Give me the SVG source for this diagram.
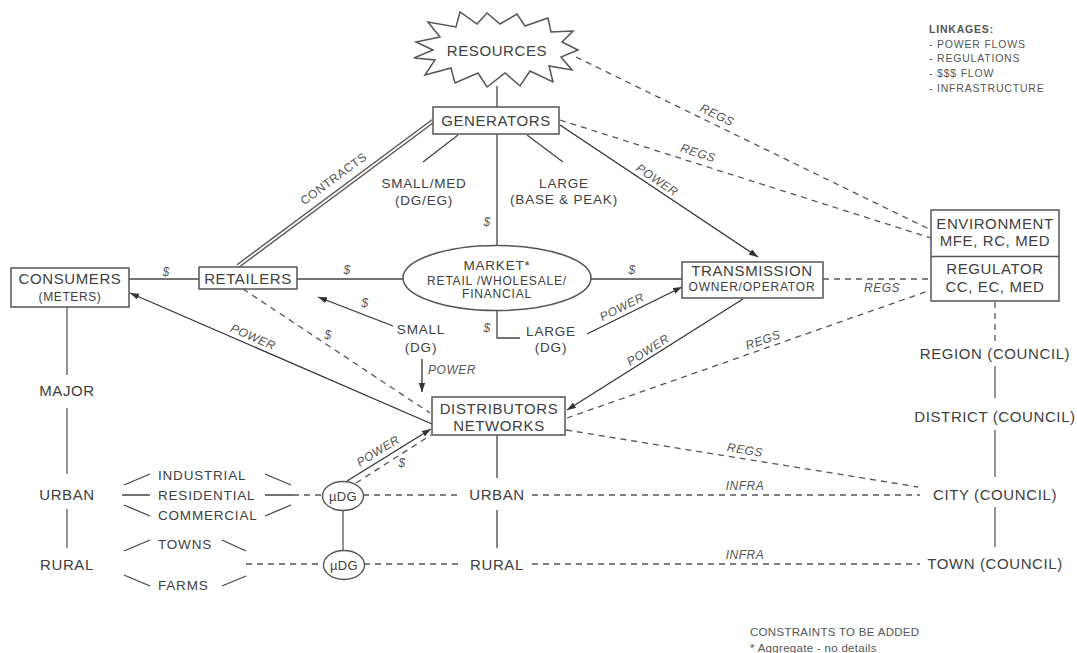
<svg xmlns="http://www.w3.org/2000/svg" width="1077" height="653" viewBox="0 0 1077 653">
<defs>
<marker id="arr" viewBox="0 0 10 7" refX="10" refY="3.5" markerWidth="9" markerHeight="6.3" markerUnits="userSpaceOnUse" orient="auto"><path d="M0,0 L10,3.5 L0,7 z" fill="#333"/></marker>
</defs>
<style>
text { font-family: "Liberation Sans", Arial, Helvetica, sans-serif; fill: #404040; }
.big { font-size: 15px; letter-spacing: 0.6px; text-anchor: middle; }
.mid { font-size: 13.5px; letter-spacing: 0.8px; text-anchor: middle; }
.mids { font-size: 13.5px; letter-spacing: 0.8px; text-anchor: start; }
.sm { font-size: 12px; letter-spacing: 0.8px; text-anchor: middle; }
.lbl { font-size: 12px; font-style: italic; letter-spacing: 0.5px; text-anchor: middle; fill: #555; }
.leg { font-size: 10.5px; letter-spacing: 0.8px; fill: #555; }
.note { font-size: 11.5px; letter-spacing: 0.3px; fill: #555; }
.box { fill: #fff; stroke: #555; stroke-width: 1.5; }
.ln { stroke: #444; stroke-width: 1.3; fill: none; }
.arw { stroke: #333; stroke-width: 1.3; fill: none; marker-end: url(#arr); }
.gl { stroke: #888; stroke-width: 1.8; fill: none; }
.dash { stroke: #555; stroke-width: 1.3; stroke-dasharray: 6 5; fill: none; }
</style>
<rect width="1077" height="653" fill="#fff"/>

<g id="connectors">
  <path class="ln" d="M497,86 L497,107"/>
  <path class="ln" d="M497,134 L497,245"/>
  <path class="ln" d="M458,135 L423,162"/>
  <path class="ln" d="M527,135 L563,162"/>
  <path d="M238,266 L433,121" stroke="#555" stroke-width="4.6" fill="none"/>
  <path d="M238,266 L433,121" stroke="#fff" stroke-width="1.8" fill="none"/>
  <path class="ln" d="M129,279 L199,279"/>
  <path class="ln" d="M297,279 L403,279"/>
  <path class="ln" d="M591,279 L682,279"/>
  <path class="arw" d="M560,125 L758,257"/>
  <path class="arw" d="M393,326 L318,297"/>
  <path class="arw" d="M422,359 L422,392"/>
  <path class="ln" d="M497,310 L497,338 L520,338"/>
  <path class="arw" d="M587,334 L682,287"/>
  <path class="arw" d="M743,299 L567,410"/>
  <path class="arw" d="M432,424 L130,293"/>
  <path class="dash" d="M243,289 L430,413"/>
  <path class="arw" d="M347,481 L431,429"/>
  <path class="dash" d="M356,483 L431,435"/>
  <path class="dash" d="M576,57 L931,230"/>
  <path class="dash" d="M560,120 L931,238"/>
  <path class="dash" d="M823,279 L931,279"/>
  <path class="dash" d="M567,418 L931,290"/>
  <path class="dash" d="M566,430 L918,487"/>
  <path class="dash" d="M995,302 L995,344"/>
  <path class="gl" d="M995,366 L995,398"/>
  <path class="gl" d="M995,430 L995,477"/>
  <path class="gl" d="M995,507 L995,547"/>
  <path class="gl" d="M67,307 L67,375"/>
  <path class="gl" d="M67,408 L67,474"/>
  <path class="gl" d="M67,509 L67,548"/>
  <path class="ln" d="M124,485 L150,474 M122,495 L150,495 M124,505 L150,516"/>
  <path class="ln" d="M265,474 L291,485 M265,495 L293,495 M265,516 L291,505"/>
  <path class="dash" d="M293,495 L322,495"/>
  <path class="ln" d="M124,551 L150,540 M124,575 L150,586 M222,540 L246,551 M222,586 L246,576"/>
  <path class="dash" d="M246,564 L323,564"/>
  <path class="gl" d="M343,510 L343,550"/>
  <path class="dash" d="M363,495 L462,495"/>
  <path class="dash" d="M364,564 L458,564"/>
  <path class="ln" d="M497,435 L497,478"/>
  <path class="ln" d="M497,510 L497,548"/>
  <path class="dash" d="M532,495 L920,495"/>
  <path class="dash" d="M532,564 L920,564"/>
</g>

<g id="connector-labels">
  <text class="lbl" x="0" y="0" transform="translate(336,182) rotate(-36.6)" style="font-style:normal">CONTRACTS</text>
  <text class="lbl" x="166" y="276">$</text>
  <text class="lbl" x="347" y="274">$</text>
  <text class="lbl" x="632" y="274">$</text>
  <text class="lbl" x="487" y="226">$</text>
  <text class="lbl" x="487" y="332">$</text>
  <text class="lbl" x="365" y="307">$</text>
  <text class="lbl" x="328" y="339">$</text>
  <text class="lbl" x="402" y="467">$</text>
  <text class="lbl" x="0" y="4" transform="translate(657,180) rotate(33.7)">POWER</text>
  <text class="lbl" x="0" y="4" transform="translate(622,307) rotate(-26.3)">POWER</text>
  <text class="lbl" x="0" y="4" transform="translate(648,350) rotate(-32.4)">POWER</text>
  <text class="lbl" x="0" y="4" transform="translate(253,337) rotate(23.4)">POWER</text>
  <text class="lbl" x="0" y="4" transform="translate(378,451) rotate(-31.8)">POWER</text>
  <text class="lbl" x="452" y="374">POWER</text>
  <text class="lbl" x="0" y="4" transform="translate(717,115) rotate(25.8)">REGS</text>
  <text class="lbl" x="0" y="4" transform="translate(698,153) rotate(17.6)">REGS</text>
  <text class="lbl" x="882" y="292">REGS</text>
  <text class="lbl" x="0" y="4" transform="translate(763,340) rotate(-19.4)">REGS</text>
  <text class="lbl" x="0" y="4" transform="translate(745,450) rotate(9.2)">REGS</text>
  <text class="lbl" x="745" y="490">INFRA</text>
  <text class="lbl" x="745" y="559">INFRA</text>
</g>

<g id="resources">
  <polygon points="416,42 440,37 428,22 456,27 460,12 477,24 487,13 500,24 517,14 525,26 548,18 551,32 573,31 562,42 578,50 561,57 572,70 549,66 553,82 530,71 520,86 505,73 487,87 478,73 455,83 451,68 425,75 435,60 414,58 433,50" fill="#fff" stroke="#555" stroke-width="1.5" stroke-linejoin="miter"/>
  <text class="big" x="497" y="56">RESOURCES</text>
</g>

<g id="generators">
  <rect class="box" x="433" y="107" width="126" height="27"/>
  <text class="big" x="496" y="126">GENERATORS</text>
</g>

<g id="gen-small">
  <text class="mid" x="424" y="188">SMALL/MED</text>
  <text class="mid" x="424" y="205">(DG/EG)</text>
</g>
<g id="gen-large">
  <text class="mid" x="564" y="188">LARGE</text>
  <text class="mid" x="564" y="204">(BASE &amp; PEAK)</text>
</g>

<g id="consumers">
  <rect class="box" x="11" y="268" width="118" height="39"/>
  <text class="big" x="70" y="284">CONSUMERS</text>
  <text class="sm" x="70" y="301" style="letter-spacing:0.6px">(METERS)</text>
</g>

<g id="retailers">
  <rect class="box" x="199" y="267" width="98" height="22"/>
  <text class="big" x="248" y="284">RETAILERS</text>
</g>

<g id="market">
  <ellipse cx="497" cy="278" rx="94" ry="32.5" fill="#fff" stroke="#555" stroke-width="1.5"/>
  <text class="mid" x="497" y="270">MARKET*</text>
  <text class="sm" x="497" y="285">RETAIL /WHOLESALE/</text>
  <text class="sm" x="497" y="298">FINANCIAL</text>
</g>

<g id="small-dg">
  <text class="mid" x="421" y="334">SMALL</text>
  <text class="mid" x="421" y="352">(DG)</text>
</g>
<g id="large-dg">
  <text class="mid" x="551" y="336">LARGE</text>
  <text class="mid" x="551" y="352">(DG)</text>
</g>

<g id="transmission">
  <rect class="box" x="682" y="262" width="141" height="36"/>
  <text class="big" x="752" y="275.5">TRANSMISSION</text>
  <text class="sm" x="752" y="290.5">OWNER/OPERATOR</text>
</g>

<g id="environment-regulator">
  <rect class="box" x="931" y="210" width="128" height="91"/>
  <line x1="931" y1="256.5" x2="1059" y2="256.5" stroke="#555" stroke-width="1.5"/>
  <text class="big" x="995" y="228.5">ENVIRONMENT</text>
  <text class="big" x="995" y="245.5">MFE, RC, MED</text>
  <text class="big" x="995" y="273.5">REGULATOR</text>
  <text class="big" x="995" y="291.5">CC, EC, MED</text>
</g>

<g id="distributors">
  <rect class="box" x="432" y="397" width="133" height="38"/>
  <text class="big" x="499" y="413.5">DISTRIBUTORS</text>
  <text class="big" x="499" y="430.5">NETWORKS</text>
</g>

<g id="region"><text class="big" x="995" y="358.5">REGION (COUNCIL)</text></g>
<g id="district"><text class="big" x="995" y="422">DISTRICT (COUNCIL)</text></g>
<g id="city"><text class="big" x="995" y="500">CITY (COUNCIL)</text></g>
<g id="town"><text class="big" x="995" y="569">TOWN (COUNCIL)</text></g>

<g id="major"><text class="big" x="67" y="395.5">MAJOR</text></g>
<g id="urban-left"><text class="big" x="67" y="500">URBAN</text></g>
<g id="rural-left"><text class="big" x="67" y="569.5">RURAL</text></g>

<g id="industrial"><text class="mids" x="158" y="479.5">INDUSTRIAL</text></g>
<g id="residential"><text class="mids" x="158" y="500">RESIDENTIAL</text></g>
<g id="commercial"><text class="mids" x="158" y="519.5">COMMERCIAL</text></g>
<g id="towns"><text class="mids" x="158" y="548.5">TOWNS</text></g>
<g id="farms"><text class="mids" x="158" y="590">FARMS</text></g>

<g id="udg-urban">
  <ellipse cx="343" cy="496" rx="20.5" ry="14.5" fill="#fff" stroke="#555" stroke-width="1.4"/>
  <text class="sm" x="343" y="500.5" style="font-size:13px;letter-spacing:0.3px">µDG</text>
</g>
<g id="udg-rural">
  <ellipse cx="344" cy="565" rx="20.5" ry="14.5" fill="#fff" stroke="#555" stroke-width="1.4"/>
  <text class="sm" x="344" y="569.5" style="font-size:13px;letter-spacing:0.3px">µDG</text>
</g>

<g id="urban-mid"><text class="big" x="497" y="500">URBAN</text></g>
<g id="rural-mid"><text class="big" x="497" y="569.5">RURAL</text></g>

<g id="legend">
  <text class="leg" x="929" y="33" style="font-weight:bold">LINKAGES:</text>
  <text class="leg" x="929" y="47.5">- POWER FLOWS</text>
  <text class="leg" x="929" y="62">- REGULATIONS</text>
  <text class="leg" x="929" y="76.5">- $$$ FLOW</text>
  <text class="leg" x="929" y="92">- INFRASTRUCTURE</text>
</g>

<g id="notes">
  <text class="note" x="750" y="636">CONSTRAINTS TO BE ADDED</text>
  <text class="note" x="750" y="652">* Aggregate - no details</text>
</g>
</svg>
